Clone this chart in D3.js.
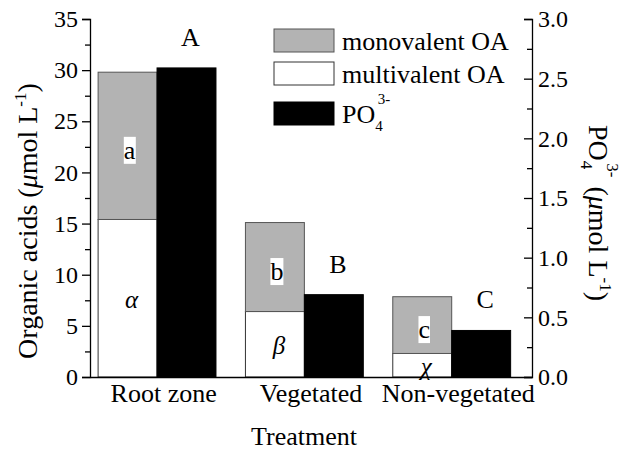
<!DOCTYPE html>
<html><head><meta charset="utf-8">
<script src="https://cdn.jsdelivr.net/npm/d3@7"></script>
<style>
body{margin:0;background:#fff}
svg text{font-family:"Liberation Serif","Times New Roman",serif;fill:#000}
</style>
</head><body>
<svg id="chart" width="625" height="452"></svg>
<script>
// ---- data ----
const categories = ["Root zone", "Vegetated", "Non-vegetated"];
const multivalentOA = [15.4, 6.4, 2.3];
const monovalentOA = [14.4, 8.7, 5.55];
const phosphate = [2.59, 0.69, 0.39];
const groupLetters = ["A", "B", "C"];
const monoLetters = ["a", "b", "c"];
const multiLetters = ["\u03B1", "\u03B2", "\u03C7"];
const leftTicks = [0, 5, 10, 15, 20, 25, 30, 35];
const leftMinor = [2.5, 7.5, 12.5, 17.5, 22.5, 27.5, 32.5];
const rightTicks = [0, 0.5, 1.0, 1.5, 2.0, 2.5, 3.0];
const rightMinor = [0.25, 0.75, 1.25, 1.75, 2.25, 2.75];
const legendItems = ["monovalent OA", "multivalent OA", "PO"];

// ---- layout ----
const L = 90, R = 532, T = 19, B = 377;
const grey = "#b3b3b3";
const svg = d3.select("#chart");

const x = d3.scaleBand().domain(categories).range([L, R]);
const y = d3.scaleLinear().domain([0, 35]).range([B, T]);
const y2 = d3.scaleLinear().domain([0, 3]).range([B, T]);
const bw = x.bandwidth();
const barW = 0.4 * bw;
const oaX = c => x(c) + 0.055 * bw;
const poX = c => oaX(c) + barW;

const data = categories.map((c, i) => ({
  c, multi: multivalentOA[i], mono: monovalentOA[i], po: phosphate[i],
  G: groupLetters[i], m: monoLetters[i], g: multiLetters[i]
}));

// bars
const gb = svg.append("g");
gb.selectAll(".multi").data(data).join("rect")
  .attr("x", d => oaX(d.c)).attr("width", barW)
  .attr("y", d => y(d.multi)).attr("height", d => y(0) - y(d.multi))
  .attr("fill", "#fff").attr("stroke", "#333").attr("stroke-width", 1);
gb.selectAll(".mono").data(data).join("rect")
  .attr("x", d => oaX(d.c)).attr("width", barW)
  .attr("y", d => y(d.multi + d.mono)).attr("height", d => y(d.multi) - y(d.multi + d.mono))
  .attr("fill", grey).attr("stroke", "#555").attr("stroke-width", 1);
gb.selectAll(".po").data(data).join("rect")
  .attr("x", d => poX(d.c)).attr("width", barW)
  .attr("y", d => y2(d.po)).attr("height", d => y2(0) - y2(d.po))
  .attr("fill", "#000").attr("stroke", "#000").attr("stroke-width", 1);

// letters in grey segment with white boxes
data.forEach(d => {
  const cx = oaX(d.c) + barW / 2 + 2;
  const mid = (y(d.multi) + y(d.multi + d.mono)) / 2;
  const t = svg.append("text").attr("x", cx).attr("y", mid + 13)
    .attr("text-anchor", "middle").attr("font-size", 26).text(d.m);
  const bb = t.node().getBBox();
  svg.insert("rect", () => t.node())
    .attr("x", bb.x).attr("y", bb.y + 1).attr("width", bb.width).attr("height", bb.height - 2)
    .attr("fill", "#fff");
  const mid2 = (y(0) + y(d.multi)) / 2;
  svg.append("text").attr("x", oaX(d.c) + barW / 2 + 4).attr("y", mid2 + 10)
    .attr("text-anchor", "middle").attr("font-size", 25).attr("font-style", "italic").text(d.g);
  svg.append("text").attr("x", poX(d.c) + barW / 2 + 4).attr("y", y2(d.po) - 22)
    .attr("text-anchor", "middle").attr("font-size", 26).text(d.G);
});

// axes
function styleAxis(g) {
  g.selectAll("path,line").attr("stroke", "#000").attr("stroke-width", 1.3);
  g.selectAll("text").attr("font-family", null).attr("fill", "#000");
}
const axL = svg.append("g").attr("transform", `translate(${L},0)`)
  .call(d3.axisLeft(y).tickValues(leftTicks).tickSize(8).tickPadding(4).tickFormat(d3.format("d")));
axL.selectAll("text").attr("font-size", 24);
styleAxis(axL);
const axLm = svg.append("g").attr("transform", `translate(${L},0)`)
  .call(d3.axisLeft(y).tickValues(leftMinor).tickSize(5).tickFormat(""));
axLm.select(".domain").remove(); styleAxis(axLm);

const axR = svg.append("g").attr("transform", `translate(${R},0)`)
  .call(d3.axisRight(y2).tickValues(rightTicks).tickSize(-8).tickPadding(6).tickFormat(d3.format(".1f")));
axR.selectAll("text").attr("font-size", 24);
styleAxis(axR);
const axRm = svg.append("g").attr("transform", `translate(${R},0)`)
  .call(d3.axisRight(y2).tickValues(rightMinor).tickSize(-5).tickFormat(""));
axRm.select(".domain").remove(); styleAxis(axRm);

const axB = svg.append("g").attr("transform", `translate(0,${B})`)
  .call(d3.axisBottom(x).tickSize(0).tickPadding(7));
axB.selectAll("text").attr("font-size", 26);
styleAxis(axB);

// axis titles
svg.append("text").attr("x", 304).attr("y", 445).attr("text-anchor", "middle")
  .attr("font-size", 26).text("Treatment");

const lt = svg.append("text").attr("transform", "translate(37,221) rotate(-90)")
  .attr("text-anchor", "middle").attr("font-size", 28);
lt.append("tspan").text("Organic acids (");
lt.append("tspan").attr("font-style", "italic").text("\u03BC");
lt.append("tspan").text("mol L");
lt.append("tspan").attr("font-size", 17).attr("dy", -11).text("-1");
lt.append("tspan").attr("dy", 11).text(")");

const rt = svg.append("text").attr("transform", "translate(589,213) rotate(90)")
  .attr("text-anchor", "middle").attr("font-size", 28);
rt.append("tspan").text("PO");
rt.append("tspan").attr("font-size", 17).attr("dy", 8).text("4");
rt.append("tspan").attr("font-size", 17).attr("dx", -6).attr("dy", -26).text("3-");
rt.append("tspan").attr("dy", 18).attr("dx", 9).text("(");
rt.append("tspan").attr("font-style", "italic").text("\u03BC");
rt.append("tspan").text("mol L");
rt.append("tspan").attr("font-size", 17).attr("dy", -11).text("-1");
rt.append("tspan").attr("dy", 11).text(")");

// legend
const legFill = [grey, "#fff", "#000"];
const legStroke = ["#555", "#333", "#000"];
const legY = [29, 62, 102];
const lg = svg.append("g");
legendItems.forEach((name, i) => {
  lg.append("rect").attr("x", 274).attr("y", legY[i]).attr("width", 60).attr("height", 23)
    .attr("fill", legFill[i]).attr("stroke", legStroke[i]).attr("stroke-width", 1);
  const t = lg.append("text").attr("x", 342).attr("y", legY[i] + 21).attr("font-size", 26);
  t.append("tspan").text(name);
  if (i === 2) {
    t.append("tspan").attr("font-size", 15).attr("dy", 8).text("4");
    t.append("tspan").attr("font-size", 15).attr("dx", -5).attr("dy", -27).text("3-");
  }
});
</script>
</body></html>
